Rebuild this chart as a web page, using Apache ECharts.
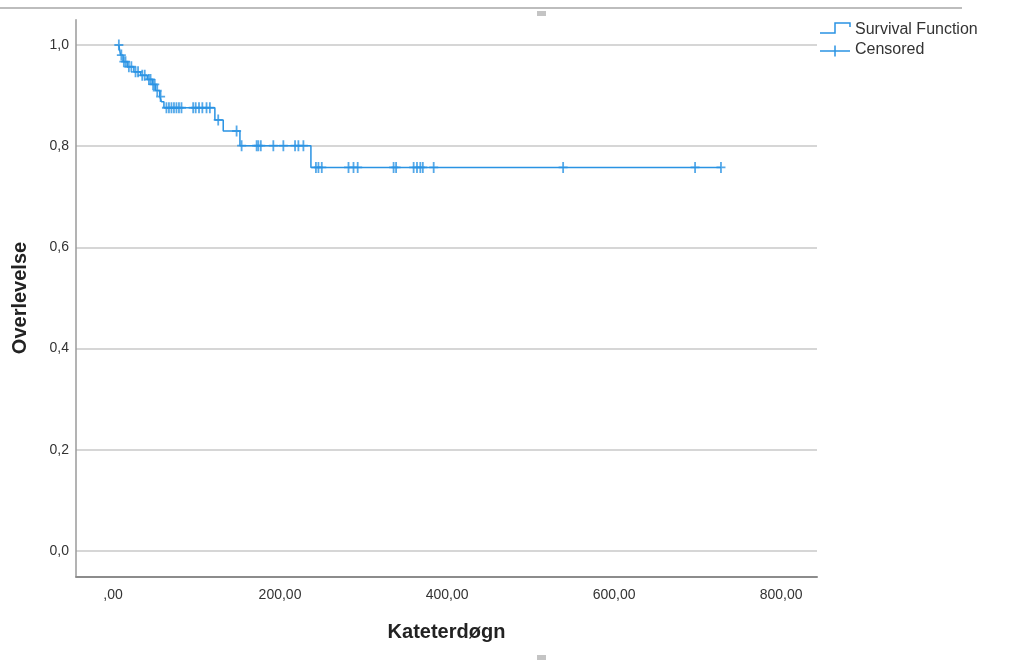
<!DOCTYPE html>
<html><head><meta charset="utf-8">
<script src="https://cdn.jsdelivr.net/npm/echarts@6/dist/echarts.min.js"></script>
<style>html,body{margin:0;padding:0;background:#fff}#c{width:1017px;height:660px}</style>
</head><body><div id="c"></div>
<script>
// Kaplan-Meier step points: time (days) and survival after that time
const eventTimes = [7, 9, 12, 17, 25, 33, 41, 47, 51, 56, 58, 61, 122, 132, 152, 237, 728];
const survival   = [1.000, 0.980, 0.967, 0.957, 0.947, 0.940, 0.932, 0.922, 0.910, 0.898, 0.888, 0.876, 0.852, 0.830, 0.801, 0.758, 0.758];
// Censored observations
const censoredTimes = [7, 10, 13, 15, 19, 22, 27, 30, 35, 38, 43, 45, 48, 50, 53, 57,
  64, 67, 70, 73, 76, 79, 82, 96, 99, 103, 107, 112, 116, 126, 148,
  154, 172, 174, 177, 192, 204, 218, 222, 228,
  243, 246, 250, 282, 288, 293, 336, 339, 360, 364, 368, 371, 384, 539, 697, 728];
const censoredSurvival = [1.000, 0.980, 0.967, 0.967, 0.957, 0.957, 0.947, 0.947, 0.940, 0.940, 0.932, 0.932, 0.922, 0.922, 0.910, 0.898,
  0.876, 0.876, 0.876, 0.876, 0.876, 0.876, 0.876, 0.876, 0.876, 0.876, 0.876, 0.876, 0.876, 0.852, 0.830,
  0.801, 0.801, 0.801, 0.801, 0.801, 0.801, 0.801, 0.801, 0.801,
  0.758, 0.758, 0.758, 0.758, 0.758, 0.758, 0.758, 0.758, 0.758, 0.758, 0.758, 0.758, 0.758, 0.758, 0.758, 0.758];
const xTickValues = [0, 200, 400, 600, 800];
const yTickValues = [0, 0.2, 0.4, 0.6, 0.8, 1.0];
const seriesNames = ['Survival Function', 'Censored'];

const blue = '#2a93e3';
const font = 'Liberation Sans, Arial, sans-serif';
const crossPath = 'path://M36,0h18v110h-18zM0,46h90v18h-90z';

const chart = echarts.init(document.getElementById('c'), null, {renderer: 'canvas'});
chart.setOption({
  backgroundColor: '#fff',
  animation: false,
  grid: {left: 76, right: 200, top: 19.7, bottom: 83.7, containLabel: false},
  xAxis: {
    type: 'value', min: -44.3, max: 843,
    name: 'Kateterdøgn', nameLocation: 'middle', nameGap: 46,
    nameTextStyle: {fontFamily: font, fontSize: 20, fontWeight: 'bold', color: '#222'},
    axisLine: {show: true, onZero: false, lineStyle: {color: '#8c8c8c', width: 2}},
    axisTick: {show: false, customValues: xTickValues},
    splitLine: {show: false},
    axisLabel: {customValues: xTickValues, margin: 12, fontFamily: font, fontSize: 14, color: '#333',
      formatter: v => v === 0 ? ',00' : v.toFixed(2).replace('.', ',')}
  },
  yAxis: {
    type: 'value', min: -0.05, max: 1.05,
    name: 'Overlevelse', nameLocation: 'middle', nameGap: 46, nameRotate: 90,
    nameTextStyle: {fontFamily: font, fontSize: 20, fontWeight: 'bold', color: '#222'},
    axisLine: {show: true, onZero: false, lineStyle: {color: '#9a9a9a', width: 1.5}},
    axisTick: {show: false, customValues: yTickValues},
    splitLine: {show: true, lineStyle: {color: '#c8c8c8', width: 1.5}},
    axisLabel: {customValues: yTickValues, margin: 7, fontFamily: font, fontSize: 14, color: '#333',
      formatter: v => v.toFixed(1).replace('.', ',')}
  },
  series: [
    {
      name: seriesNames[0], type: 'line', step: 'end', showSymbol: false, symbol: 'none',
      lineStyle: {color: blue, width: 1.5},
      data: eventTimes.map((t, i) => [t, survival[i]]),
      z: 2
    },
    {
      name: seriesNames[1], type: 'scatter', symbol: crossPath, symbolSize: [9, 11],
      itemStyle: {color: blue},
      data: censoredTimes.map((t, i) => [t, censoredSurvival[i]]),
      z: 3
    }
  ],
  graphic: [
    {type: 'rect', shape: {x: 0, y: 7, width: 962, height: 2}, style: {fill: '#bdbdbd'}, silent: true},
    {type: 'rect', shape: {x: 537, y: 11, width: 9, height: 5}, style: {fill: '#c4c4c4'}, silent: true},
    {type: 'rect', shape: {x: 537, y: 655, width: 9, height: 5}, style: {fill: '#c4c4c4'}, silent: true},
    {type: 'polyline', shape: {points: [[820, 33], [835, 33], [835, 23], [850, 23], [850, 27]]},
      style: {stroke: blue, lineWidth: 1.5, fill: null}, silent: true},
    {type: 'text', x: 855, y: 30, style: {text: seriesNames[0], font: '16px ' + font, fill: '#333', verticalAlign: 'middle'}, silent: true},
    {type: 'line', shape: {x1: 820, y1: 51, x2: 850, y2: 51}, style: {stroke: blue, lineWidth: 1.5}, silent: true},
    {type: 'line', shape: {x1: 835, y1: 45.5, x2: 835, y2: 56.5}, style: {stroke: blue, lineWidth: 1.5}, silent: true},
    {type: 'text', x: 855, y: 50, style: {text: seriesNames[1], font: '16px ' + font, fill: '#333', verticalAlign: 'middle'}, silent: true}
  ]
});
</script>
</body></html>
